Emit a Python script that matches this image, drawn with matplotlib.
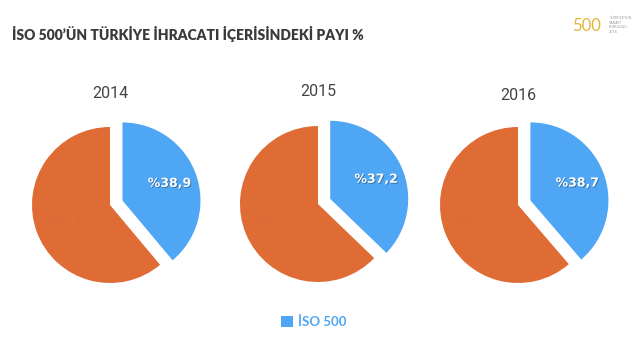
import matplotlib
matplotlib.use("Agg")
import matplotlib.pyplot as plt
import matplotlib.patheffects as pe

# data
years = ["2014", "2015", "2016"]
iso_share = [38.9, 37.2, 38.7]
other_share = [61.1, 62.8, 61.3]
series_label = "İSO 500"

title = "İSO 500’ÜN TÜRKİYE İHRACATI İÇERİSİNDEKİ PAYI %"

blue = "#4EA6F4"
orange = "#DF6B35"

W, H = 634, 357
fig = plt.figure(figsize=(W / 100, H / 100), dpi=100)
fig.patch.set_facecolor("white")

# pie centres in pixels (from the top-left), radius in pixels
centers = [(110, 205), (318, 204), (518, 205)]
r_px = 78
half = 1.25
year_y = [94, 91, 96]

wedges_first = None
for i, (yr, iso, oth) in enumerate(zip(years, iso_share, other_share)):
    cx, cy = centers[i]
    size = 2 * half * r_px
    ax = fig.add_axes([(cx - size / 2) / W, 1 - (cy + size / 2) / H, size / W, size / H])
    wedges, texts, autotexts = ax.pie(
        [iso, oth], colors=[blue, orange], startangle=90, counterclock=False,
        explode=[0.17, 0], autopct="%1.1f", pctdistance=0.64,
        wedgeprops=dict(linewidth=0))
    autotexts[0].set_text("%" + f"{iso:.1f}".replace(".", ","))
    autotexts[0].set_color("white")
    autotexts[0].set_fontsize(9)
    autotexts[0].set_fontweight("bold")
    autotexts[0].set_path_effects([pe.withSimplePatchShadow(offset=(0.6, -0.6), shadow_rgbFace="black", alpha=0.35)])
    # the orange share is printed in almost the same colour as its slice
    autotexts[1].set_text("%" + f"{oth:.1f}".replace(".", ","))
    autotexts[1].set_color("#DC6937")
    autotexts[1].set_fontsize(9)
    ax.set_xlim(-half, half)
    ax.set_ylim(-half, half)
    ax.set_aspect("equal")
    ax.axis("off")
    fig.text(cx / W, 1 - year_y[i] / H, yr, ha="center", va="center",
             fontsize=11.5, color="#444444", family="Roboto")
    if wedges_first is None:
        wedges_first = wedges[0]

fig.text(12 / W, 1 - 34 / H, title, ha="left", va="center", fontsize=10,
         fontweight="heavy", color="#3a3a3a", family="Lato")

# small logo in the corner
fig.text(587 / W, 1 - 26 / H, "500", ha="center", va="center", fontsize=12,
         color="#E2B43C", family="Lato")
fig.text(609 / W, 1 - 25 / H, "TÜRKİYE'NİN\nSANAYİ\nKURULUŞU\n2016", ha="left", va="center",
         fontsize=2.5, color="#999999", linespacing=1.2)

leg = fig.legend(handles=[wedges_first], labels=[series_label], loc="center",
                 bbox_to_anchor=(314 / W, 1 - 322 / H), frameon=False,
                 handlelength=0.9, handleheight=0.9, handletextpad=0.4,
                 prop=dict(size=9.5, weight="bold", family="Lato"))
for t in leg.get_texts():
    t.set_color(blue)

fig.savefig("out.png", dpi=100, facecolor="white")
